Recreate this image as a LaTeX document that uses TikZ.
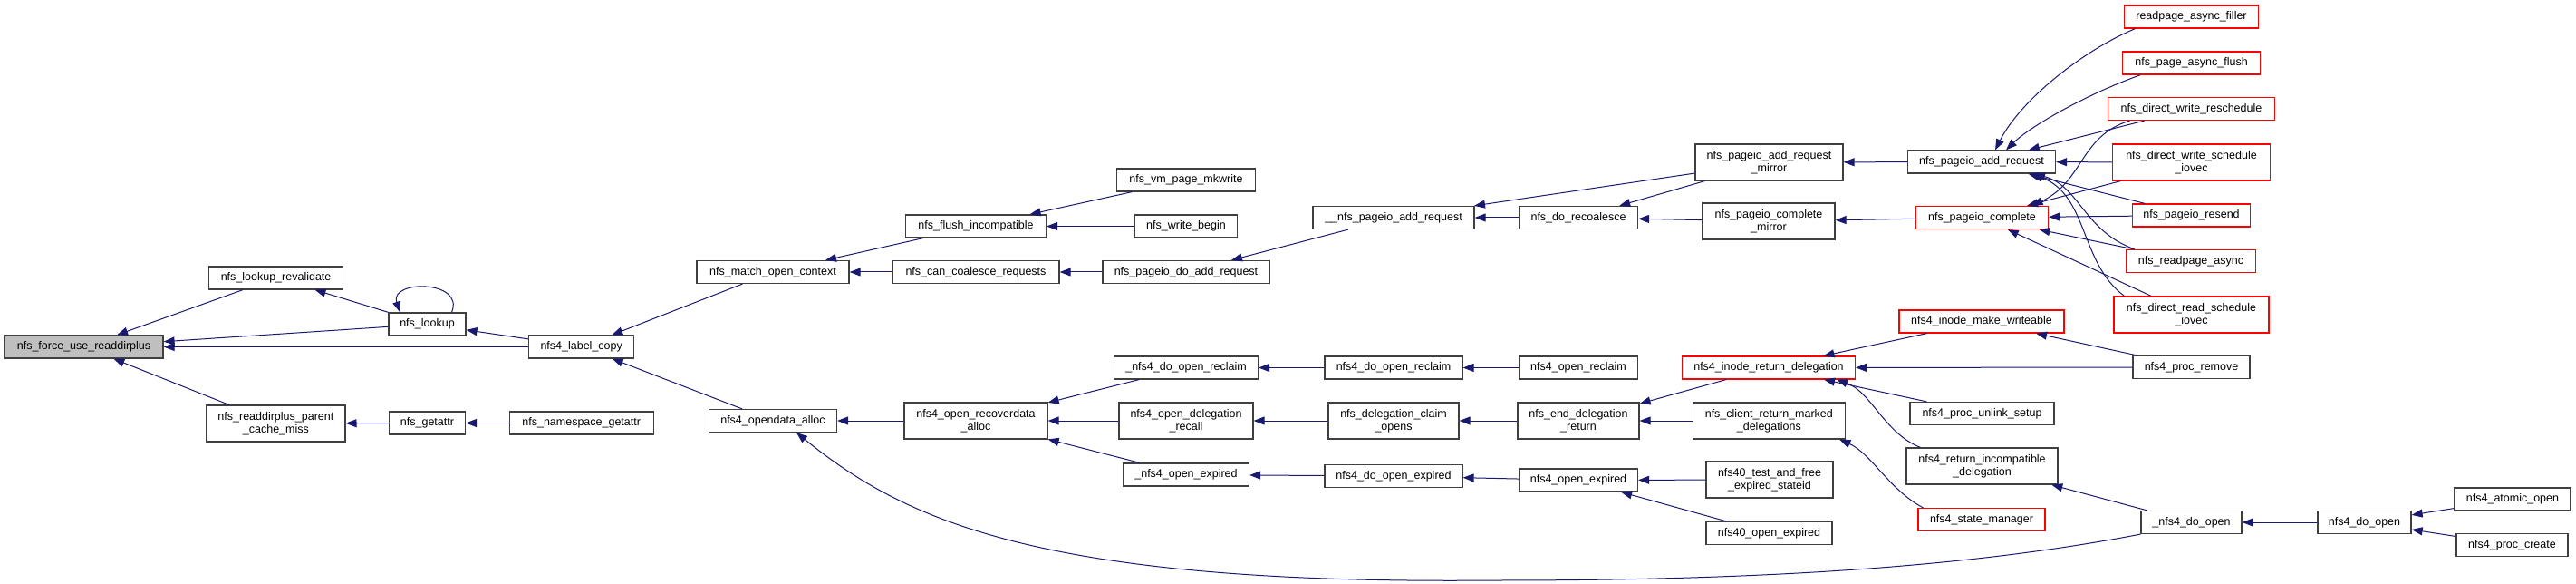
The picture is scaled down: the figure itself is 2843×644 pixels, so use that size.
\documentclass[tikz,border=0pt]{standalone}
\usepackage{fontspec}
\setmainfont{Liberation Sans}
\usetikzlibrary{arrows.meta}
\definecolor{callblue}{RGB}{25,25,112}
\definecolor{fnborder}{RGB}{64,64,64}
\definecolor{fnred}{RGB}{255,0,0}
\definecolor{fngray}{RGB}{191,191,191}
\begin{document}
\begin{tikzpicture}[x=1pt, y=-1pt,
		fn/.style={draw=fnborder, line width=1.2pt, fill=white, inner sep=0pt, minimum height=25pt, align=center, font=\fontsize{12.5}{14}\selectfont},
		fntwo/.style={fn, minimum height=40pt},
		trunc/.style={draw=fnred},
		call/.style={draw=callblue, line width=1pt, -{Triangle[length=12pt, width=9pt]}}]
	\useasboundingbox (0,0) rectangle (2843,644);
	\node[fn, fill=fngray, minimum width=175pt] (force) at (92.5,382.5) {nfs\_force\_use\_readdirplus};
	\node[fn, minimum width=148pt] (revalidate) at (304.6,306.5) {nfs\_lookup\_revalidate};
	\node[fntwo, minimum width=153pt] (cachemiss) at (304.4,467) {nfs\_readdirplus\_parent\\\_cache\_miss};
	\node[fn, minimum width=85pt] (lookup) at (471.5,357.5) {nfs\_lookup};
	\node[fn, minimum width=84pt] (getattr) at (471.5,466.5) {nfs\_getattr};
	\node[fn, minimum width=116pt] (labelcopy) at (641.7,382.5) {nfs4\_label\_copy};
	\node[fn, minimum width=159pt] (nsgetattr) at (641.7,466.5) {nfs\_namespace\_getattr};
	\node[fn, minimum width=168pt] (matchctx) at (853,300) {nfs\_match\_open\_context};
	\node[fn, minimum width=141pt] (opendata) at (853,464) {nfs4\_opendata\_alloc};
	\node[fn, minimum width=155pt] (flushinc) at (1077,249.5) {nfs\_flush\_incompatible};
	\node[fn, minimum width=184pt] (coalesce) at (1077,300) {nfs\_can\_coalesce\_requests};
	\node[fntwo, minimum width=158pt] (recoverdata) at (1077,464) {nfs4\_open\_recoverdata\\\_alloc};
	\node[fn, minimum width=153pt] (mkwrite) at (1309,198.5) {nfs\_vm\_page\_mkwrite};
	\node[fn, minimum width=113pt] (writebegin) at (1309,249.5) {nfs\_write\_begin};
	\node[fn, minimum width=184pt] (doaddreq) at (1309,300) {nfs\_pageio\_do\_add\_request};
	\node[fn, minimum width=159pt] (udoreclaim) at (1309,405.5) {\_nfs4\_do\_open\_reclaim};
	\node[fntwo, minimum width=148pt] (delegrecall) at (1309,464) {nfs4\_open\_delegation\\\_recall};
	\node[fn, minimum width=139pt] (uopenexpired) at (1309,523.5) {\_nfs4\_open\_expired};
	\node[fn, minimum width=178pt] (uaddreq) at (1538,240) {\_\_nfs\_pageio\_add\_request};
	\node[fn, minimum width=152pt] (doreclaim) at (1538,405.5) {nfs4\_do\_open\_reclaim};
	\node[fntwo, minimum width=144pt] (claimopens) at (1538,464) {nfs\_delegation\_claim\\\_opens};
	\node[fn, minimum width=152pt] (doexpired) at (1538,525) {nfs4\_do\_open\_expired};
	\node[fn, minimum width=131pt] (recoalesce) at (1742,240) {nfs\_do\_recoalesce};
	\node[fn, minimum width=131pt] (openreclaim) at (1742,405.5) {nfs4\_open\_reclaim};
	\node[fntwo, minimum width=134pt] (enddeleg) at (1742,464) {nfs\_end\_delegation\\\_return};
	\node[fn, minimum width=131pt] (openexpired) at (1742,529.5) {nfs4\_open\_expired};
	\node[fntwo, minimum width=163pt] (addmirror) at (1952.5,179) {nfs\_pageio\_add\_request\\\_mirror};
	\node[fntwo, minimum width=146pt] (compmirror) at (1952,244) {nfs\_pageio\_complete\\\_mirror};
	\node[fn, trunc, minimum width=191pt] (inoderet) at (1952,405.5) {nfs4\_inode\_return\_delegation};
	\node[fntwo, minimum width=168pt] (markeddeleg) at (1952.3,464) {nfs\_client\_return\_marked\\\_delegations};
	\node[fntwo, minimum width=140pt] (testfree) at (1953,529) {nfs40\_test\_and\_free\\\_expired\_stateid};
	\node[fn, minimum width=139pt] (v40expired) at (1952.5,588) {nfs40\_open\_expired};
	\node[fn, minimum width=163pt] (addreq) at (2187,178.5) {nfs\_pageio\_add\_request};
	\node[fn, trunc, minimum width=146pt] (complete) at (2187.5,240) {nfs\_pageio\_complete};
	\node[fn, trunc, minimum width=182pt] (mkwriteable) at (2187,354.5) {nfs4\_inode\_make\_writeable};
	\node[fn, minimum width=159pt] (unlinksetup) at (2187.5,456) {nfs4\_proc\_unlink\_setup};
	\node[fntwo, minimum width=167pt] (retincompat) at (2187.5,514) {nfs4\_return\_incompatible\\\_delegation};
	\node[fn, trunc, minimum width=140pt] (statemgr) at (2187,573) {nfs4\_state\_manager};
	\node[fn, trunc, minimum width=148pt] (rpfiller) at (2418.5,18.5) {readpage\_async\_filler};
	\node[fn, trunc, minimum width=152pt] (asyncflush) at (2418.5,69.5) {nfs\_page\_async\_flush};
	\node[fn, trunc, minimum width=184pt] (wreschedule) at (2418.5,120) {nfs\_direct\_write\_reschedule};
	\node[fntwo, trunc, minimum width=174pt] (wschedule) at (2418.5,179) {nfs\_direct\_write\_schedule\\\_iovec};
	\node[fn, trunc, minimum width=130pt] (resend) at (2418.5,237.5) {nfs\_pageio\_resend};
	\node[fn, trunc, minimum width=143pt] (rpasync) at (2418,288) {nfs\_readpage\_async};
	\node[fntwo, trunc, minimum width=171pt] (rschedule) at (2418.5,347) {nfs\_direct\_read\_schedule\\\_iovec};
	\node[fn, minimum width=129pt] (procremove) at (2418.5,405) {nfs4\_proc\_remove};
	\node[fn, minimum width=111pt] (udoopen) at (2418.5,576) {\_nfs4\_do\_open};
	\node[fn, minimum width=103pt] (doopen) at (2609.5,576) {nfs4\_do\_open};
	\node[fn, minimum width=128pt] (atomicopen) at (2773,550.5) {nfs4\_atomic\_open};
	\node[fn, minimum width=123pt] (proccreate) at (2772.5,601) {nfs4\_proc\_create};
	\draw[call] (revalidate) -- (force);
	\draw[call] (lookup) -- (force);
	\draw[call] (labelcopy) -- (force);
	\draw[call] (cachemiss) -- (force);
	\draw[call] (lookup) -- (revalidate);
	\draw[call] ([xshift=27pt]lookup.north) .. controls +(15,-36) and +(-12,-36) .. ([xshift=-30pt]lookup.north);
	\draw[call] (labelcopy) -- (lookup);
	\draw[call] (getattr) -- (cachemiss);
	\draw[call] (nsgetattr) -- (getattr);
	\draw[call] (matchctx) -- (labelcopy);
	\draw[call] (opendata) -- (labelcopy);
	\draw[call] (flushinc) -- (matchctx);
	\draw[call] (coalesce) -- (matchctx);
	\draw[call] (recoverdata) -- (opendata);
	\draw[call] (mkwrite) -- (flushinc);
	\draw[call] (writebegin) -- (flushinc);
	\draw[call] (doaddreq) -- (coalesce);
	\draw[call] (udoreclaim) -- (recoverdata);
	\draw[call] (delegrecall) -- (recoverdata);
	\draw[call] (uopenexpired) -- (recoverdata);
	\draw[call] (uaddreq) -- (doaddreq);
	\draw[call] (doreclaim) -- (udoreclaim);
	\draw[call] (claimopens) -- (delegrecall);
	\draw[call] (doexpired) -- (uopenexpired);
	\draw[call] (recoalesce) -- (uaddreq);
	\draw[call] (addmirror) -- (uaddreq);
	\draw[call] (openreclaim) -- (doreclaim);
	\draw[call] (enddeleg) -- (claimopens);
	\draw[call] (openexpired) -- (doexpired);
	\draw[call] (addmirror) -- (recoalesce);
	\draw[call] (compmirror) -- (recoalesce);
	\draw[call] (inoderet) -- (enddeleg);
	\draw[call] (markeddeleg) -- (enddeleg);
	\draw[call] (testfree) -- (openexpired);
	\draw[call] (v40expired) -- (openexpired);
	\draw[call] (addreq) -- (addmirror);
	\draw[call] (complete) -- (compmirror);
	\draw[call] (mkwriteable) -- (inoderet);
	\draw[call] (procremove) -- (inoderet);
	\draw[call] (unlinksetup) -- (inoderet);
	\draw[call] ([xshift=16pt]retincompat.north west) .. controls (2080,478) and (2065,432) .. ([xshift=75pt]inoderet.south);
	\draw[call] ([xshift=6pt]statemgr.north west) .. controls (2085,540) and (2065,500) .. ([xshift=78pt]markeddeleg.south);
	\draw[call] ([xshift=-62pt]rpfiller.south) .. controls (2300,55) and (2230,110) .. ([xshift=15pt]addreq.north);
	\draw[call] ([xshift=-56pt]asyncflush.south) .. controls (2300,105) and (2240,140) .. ([xshift=27pt]addreq.north);
	\draw[call] (wreschedule) -- (addreq);
	\draw[call] ([xshift=-68pt]wreschedule.south) .. controls (2295,150) and (2300,200) .. ([xshift=55pt]complete.north);
	\draw[call] (wschedule) -- (addreq);
	\draw[call] (wschedule) -- (complete);
	\draw[call] (resend) -- (addreq);
	\draw[call] (resend) -- (complete);
	\draw[call] ([xshift=-62pt]rpasync.north) .. controls (2300,255) and (2295,205) .. ([xshift=58pt]addreq.south);
	\draw[call] (rpasync) -- (complete);
	\draw[call] ([xshift=-74pt]rschedule.north) .. controls (2295,290) and (2305,215) .. ([xshift=55pt]addreq.south);
	\draw[call] (rschedule) -- (complete);
	\draw[call] (procremove) -- (mkwriteable);
	\draw[call] (udoopen) -- (retincompat);
	\draw[call] (doopen) -- (udoopen);
	\draw[call] (atomicopen) -- (doopen);
	\draw[call] (proccreate) -- (doopen);
	\draw[call] (udoopen.south west) .. controls (2150,630) and (1900,640) .. (1650,640) .. controls (1150,645) and (1000,575) .. ([xshift=26pt]opendata.south);
\end{tikzpicture}
\end{document}
